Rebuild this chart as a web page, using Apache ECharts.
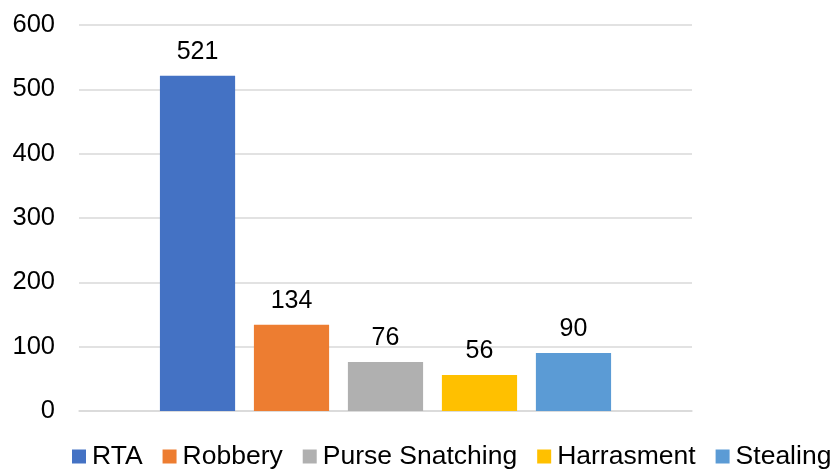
<!DOCTYPE html>
<html>
<head>
<meta charset="utf-8">
<script src="https://cdn.jsdelivr.net/npm/echarts@6/dist/echarts.min.js"></script>
<style>
html,body{margin:0;padding:0;background:#fff;}
#chart{width:834px;height:470px;}
</style>
</head>
<body>
<div id="chart"></div>
<script>
var seriesNames = ['RTA', 'Robbery', 'Purse Snatching', 'Harrasment', 'Stealing'];
var seriesValues = [521, 134, 76, 56, 90];
var seriesColors = ['#4472C4', '#ED7D31', '#B0B0B0', '#FFC000', '#5B9BD5'];
var yTicks = [0, 100, 200, 300, 400, 500, 600];

var FONT = '"Liberation Sans", Arial, sans-serif';
var chart = echarts.init(document.getElementById('chart'), null, {renderer: 'canvas'});

var series = seriesNames.map(function (name, i) {
  return {
    name: name,
    type: 'bar',
    data: [seriesValues[i]],
    itemStyle: {color: seriesColors[i]},
    barGap: '25%',
    barCategoryGap: '26.4%',
    label: {
      show: true,
      position: 'top',
      distance: 11,
      color: '#000',
      fontSize: 25,
      fontFamily: FONT
    }
  };
});

chart.setOption({
  animation: false,
  backgroundColor: '#fff',
  grid: {left: 79, right: 142, top: 25, bottom: 59, containLabel: false},
  legend: {
    data: seriesNames,
    left: 72,
    top: 443,
    width: 762,
    padding: 0,
    icon: 'rect',
    itemWidth: 14,
    itemHeight: 14,
    itemGap: 20,
    textStyle: {fontSize: 26.5, color: '#000', fontFamily: FONT, padding: [0, 0, 0, 1]}
  },
  xAxis: {
    type: 'category',
    data: [''],
    axisTick: {show: false},
    axisLabel: {show: false},
    axisLine: {show: true, lineStyle: {color: '#d9d9d9', width: 1.5}}
  },
  yAxis: {
    type: 'value',
    min: yTicks[0],
    max: yTicks[yTicks.length - 1],
    interval: yTicks[1] - yTicks[0],
    axisLine: {show: false},
    axisTick: {show: false},
    axisLabel: {fontSize: 25.5, color: '#000', fontFamily: FONT, margin: 24, padding: [6, 0, 0, 0]},
    splitLine: {lineStyle: {color: '#d9d9d9', width: 1.5}}
  },
  series: series
});
</script>
</body>
</html>
